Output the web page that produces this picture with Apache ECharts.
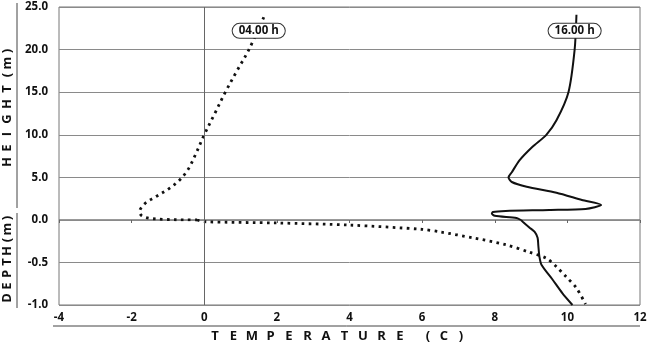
<!DOCTYPE html>
<html><head><meta charset="utf-8">
<script src="https://cdn.jsdelivr.net/npm/echarts@6/dist/echarts.min.js"></script>
<style>html,body{margin:0;padding:0;background:#fff}#c{width:650px;height:345px}</style>
</head><body><div id="c"></div>
<script>
// Temperature ticks
var xMin = -4, xMax = 12, xStep = 2;
var heightTicks = [0, 5, 10, 15, 20, 25];
var depthTicks = [-1.0, -0.5, 0.0];

// 04.00 h profile, above ground (temperature C, height m)
var amHeightT = [1.64, 1.23, 0.9, 0.58, 0.29, 0.0, -0.25, -0.45, -0.7, -1.0, -1.35, -1.64, -1.78, -1.72, -1.5, -1.1, -0.5, -0.2];
var amHeightH = [23.8, 20.0, 17.5, 15.0, 12.5, 10.0, 7.6, 5.9, 4.6, 3.6, 2.7, 1.9, 0.95, 0.5, 0.2, 0.07, 0.01, 0.0];
// 04.00 h profile, below ground (temperature C, depth m)
var amDepthT = [-0.2, 0.0, 2.0, 4.0, 6.0, 6.5, 7.4, 8.3, 8.96, 9.42, 9.7, 9.97, 10.25, 10.5];
var amDepthD = [0.0, -0.02, -0.035, -0.06, -0.11, -0.14, -0.21, -0.29, -0.38, -0.45, -0.55, -0.67, -0.80, -0.99];

// 16.00 h profile, above ground
var pmHeightT = [10.25, 10.2, 10.03, 9.7, 9.42, 9.04, 8.68, 8.47, 8.38, 8.47, 8.88, 9.7, 10.4, 10.93, 10.5, 9.5, 8.3, 7.95, 7.92, 8.0, 8.6, 8.72];
var pmHeightH = [24.1, 20.0, 15.0, 11.7, 10.0, 8.6, 7.0, 5.6, 5.0, 4.46, 3.9, 3.2, 2.35, 1.76, 1.3, 1.17, 1.06, 0.94, 0.75, 0.5, 0.23, 0.0];
// 16.00 h profile, below ground
var pmDepthT = [8.72, 8.77, 8.96, 9.1, 9.18, 9.2, 9.23, 9.29, 9.59, 9.86, 10.14];
var pmDepthD = [0.0, -0.02, -0.09, -0.14, -0.21, -0.3, -0.43, -0.53, -0.70, -0.86, -1.0];

// curve labels: [text, temperature, height]
var curveLabels = [['04.00 h', 1.5, 22.2], ['16.00 h', 10.2, 22.2]];

function zip(a, b) { return a.map(function (v, i) { return [v, b[i]]; }); }

var FONT = '"Open Sans", "DejaVu Sans", sans-serif';
var INK = '#111';
var GRIDC = '#8a8a8a';

function labelPoint(l) {
  return {
    coord: [l[1], l[2]], symbol: 'circle', symbolSize: 0,
    label: {
      show: true, position: 'inside', formatter: l[0],
      fontFamily: FONT, fontWeight: 'bold', fontSize: 11.5, color: INK,
      backgroundColor: '#fff', borderColor: '#333', borderWidth: 1,
      borderRadius: 8, padding: [1, 6, 0, 6], lineHeight: 13
    }
  };
}

var vline = {
  silent: true, symbol: 'none', label: { show: false },
  lineStyle: { color: '#666', width: 1, type: 'solid' },
  data: [{ xAxis: 0 }]
};

var dotted = { color: INK, width: 2.8, type: [2.6, 4.4], cap: 'butt' };
var solid = { color: INK, width: 2 };

// spaced titles (glyph positions)
var xTitle = ['T','E','M','P','E','R','A','T','U','R','E'];
var graphics = [];
xTitle.forEach(function (ch, i) {
  graphics.push({ type: 'text', x: 215 + i * 18.5, y: 336,
    style: { text: ch, font: 'bold 13px ' + FONT, fill: INK, textAlign: 'center', textVerticalAlign: 'middle' } });
});
[['(', 428], ['C', 444], [')', 461]].forEach(function (p) {
  graphics.push({ type: 'text', x: p[1], y: 336,
    style: { text: p[0], font: 'bold 13px ' + FONT, fill: INK, textAlign: 'center', textVerticalAlign: 'middle' } });
});
var hTitle = [['H',162],['E',148],['I',134],['G',119],['H',104],['T',89],['(',75],['m',63],[')',51]];
var dTitle = [['D',298],['E',286],['P',274],['T',262],['H',251],['(',240],['m',229],[')',218]];
hTitle.concat(dTitle).forEach(function (p) {
  graphics.push({ type: 'text', x: 7, y: p[1], rotation: Math.PI / 2,
    style: { text: p[0], font: 'bold 13px ' + FONT, fill: INK, textAlign: 'center', textVerticalAlign: 'middle' } });
});
graphics.push({ type: 'line', shape: { x1: 17, y1: 3, x2: 17, y2: 208 }, style: { stroke: '#444', lineWidth: 1 } });
graphics.push({ type: 'line', shape: { x1: 17, y1: 213, x2: 17, y2: 308 }, style: { stroke: '#444', lineWidth: 1 } });
graphics.push({ type: 'line', shape: { x1: 53, y1: 326, x2: 640, y2: 326 }, style: { stroke: '#444', lineWidth: 1 } });

var axisLbl = { fontFamily: FONT, fontWeight: 'bold', fontSize: 11.5, color: INK };

var chart = echarts.init(document.getElementById('c'), null, { renderer: 'canvas' });
chart.setOption({
  animation: false,
  backgroundColor: '#fff',
  grid: [
    { left: 59, right: 10, top: 7, height: 213, show: true, borderColor: '#777', borderWidth: 1 },
    { left: 59, right: 10, top: 220, height: 85, show: true, borderColor: '#777', borderWidth: 1 }
  ],
  xAxis: [
    { gridIndex: 0, type: 'value', min: xMin, max: xMax, interval: xStep,
      axisLabel: { show: false }, splitLine: { show: false },
      axisLine: { show: false }, axisTick: { show: true, length: 3, lineStyle: { color: '#666' } } },
    { gridIndex: 1, type: 'value', min: xMin, max: xMax, interval: xStep,
      axisLabel: Object.assign({ margin: 7 }, axisLbl), splitLine: { show: false },
      axisLine: { show: false }, axisTick: { show: false } }
  ],
  yAxis: [
    { gridIndex: 0, type: 'value', min: heightTicks[0], max: heightTicks[heightTicks.length - 1], interval: 5,
      axisLabel: Object.assign({ margin: 11, formatter: function (v) { return v.toFixed(1); } }, axisLbl),
      splitLine: { show: true, lineStyle: { color: GRIDC, width: 1 } },
      axisLine: { show: false }, axisTick: { show: false } },
    { gridIndex: 1, type: 'value', min: depthTicks[0], max: depthTicks[depthTicks.length - 1], interval: 0.5,
      axisLabel: Object.assign({ margin: 11, formatter: function (v) { return v === 0 ? '' : v.toFixed(1); } }, axisLbl),
      splitLine: { show: true, lineStyle: { color: GRIDC, width: 1 } },
      axisLine: { show: false }, axisTick: { show: false } }
  ],
  series: [
    { type: 'line', xAxisIndex: 0, yAxisIndex: 0, data: zip(amHeightT, amHeightH), smooth: 0.35,
      showSymbol: false, lineStyle: dotted, markLine: vline, z: 3,
      markPoint: { data: [labelPoint(curveLabels[0])], z: 10 } },
    { type: 'line', xAxisIndex: 0, yAxisIndex: 0, data: zip(pmHeightT, pmHeightH), smooth: 0.25,
      showSymbol: false, lineStyle: solid, z: 3,
      markPoint: { data: [labelPoint(curveLabels[1])], z: 10 } },
    { type: 'line', xAxisIndex: 1, yAxisIndex: 1, data: zip(amDepthT, amDepthD), smooth: 0.3,
      showSymbol: false, lineStyle: dotted, markLine: vline, z: 3 },
    { type: 'line', xAxisIndex: 1, yAxisIndex: 1, data: zip(pmDepthT, pmDepthD), smooth: 0.25,
      showSymbol: false, lineStyle: solid, z: 3 }
  ],
  graphic: graphics
});
</script></body></html>
